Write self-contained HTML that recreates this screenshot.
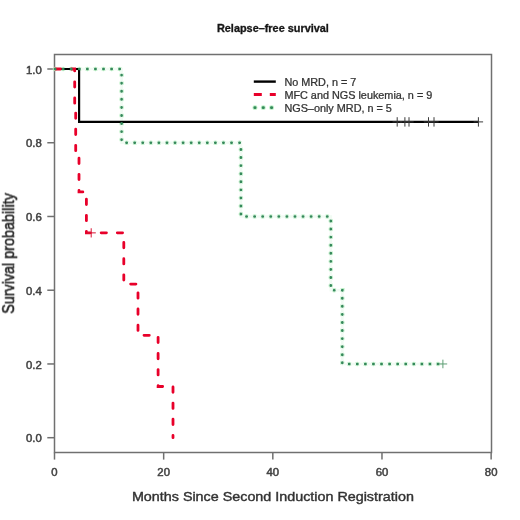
<!DOCTYPE html>
<html><head><meta charset="utf-8"><style>
html,body{margin:0;padding:0;background:#fff;}
svg{display:block;will-change:transform;}
text{font-family:"Liberation Sans",sans-serif;fill:#333;stroke:#333;stroke-width:0.2px;}
.tl{stroke-width:0.5px;fill:#444;stroke:#444;}
</style></head><body>
<svg width="520" height="520" viewBox="0 0 520 520">
<defs><filter id="bl" x="0" y="0" width="520" height="520" filterUnits="userSpaceOnUse"><feGaussianBlur stdDeviation="0.55"/></filter></defs>
<rect width="520" height="520" fill="#fff"/>
<g filter="url(#bl)">
<rect width="520" height="520" fill="#fff"/>
<rect x="54.5" y="54.5" width="437.0" height="398.0" fill="none" stroke="#707070" stroke-width="1.5"/>
<path d="M47.3,437.70H54.5" stroke="#707070" stroke-width="1.5"/>
<text class="tl" x="41.7" y="442.30" text-anchor="end" font-size="10.8" transform="translate(41.7 0) scale(1.05 1) translate(-41.7 0)">0.0</text>
<path d="M47.3,363.96H54.5" stroke="#707070" stroke-width="1.5"/>
<text class="tl" x="41.7" y="368.56" text-anchor="end" font-size="10.8" transform="translate(41.7 0) scale(1.05 1) translate(-41.7 0)">0.2</text>
<path d="M47.3,290.22H54.5" stroke="#707070" stroke-width="1.5"/>
<text class="tl" x="41.7" y="294.82" text-anchor="end" font-size="10.8" transform="translate(41.7 0) scale(1.05 1) translate(-41.7 0)">0.4</text>
<path d="M47.3,216.48H54.5" stroke="#707070" stroke-width="1.5"/>
<text class="tl" x="41.7" y="221.08" text-anchor="end" font-size="10.8" transform="translate(41.7 0) scale(1.05 1) translate(-41.7 0)">0.6</text>
<path d="M47.3,142.74H54.5" stroke="#707070" stroke-width="1.5"/>
<text class="tl" x="41.7" y="147.34" text-anchor="end" font-size="10.8" transform="translate(41.7 0) scale(1.05 1) translate(-41.7 0)">0.8</text>
<path d="M47.3,69.00H54.5" stroke="#707070" stroke-width="1.5"/>
<text class="tl" x="41.7" y="73.60" text-anchor="end" font-size="10.8" transform="translate(41.7 0) scale(1.05 1) translate(-41.7 0)">1.0</text>
<path d="M54.50,452.5V459.6" stroke="#707070" stroke-width="1.5"/>
<text class="tl" x="54.50" y="476.0" text-anchor="middle" font-size="10.3" transform="translate(54.50 0) scale(1.1 1) translate(-54.50 0)">0</text>
<path d="M163.66,452.5V459.6" stroke="#707070" stroke-width="1.5"/>
<text class="tl" x="163.66" y="476.0" text-anchor="middle" font-size="10.3" transform="translate(163.66 0) scale(1.1 1) translate(-163.66 0)">20</text>
<path d="M272.82,452.5V459.6" stroke="#707070" stroke-width="1.5"/>
<text class="tl" x="272.82" y="476.0" text-anchor="middle" font-size="10.3" transform="translate(272.82 0) scale(1.1 1) translate(-272.82 0)">40</text>
<path d="M381.98,452.5V459.6" stroke="#707070" stroke-width="1.5"/>
<text class="tl" x="381.98" y="476.0" text-anchor="middle" font-size="10.3" transform="translate(381.98 0) scale(1.1 1) translate(-381.98 0)">60</text>
<path d="M491.14,452.5V459.6" stroke="#707070" stroke-width="1.5"/>
<text class="tl" x="491.14" y="476.0" text-anchor="middle" font-size="10.3" transform="translate(491.14 0) scale(1.1 1) translate(-491.14 0)">80</text>
<text style="stroke-width:0.4px" x="272.9" y="501.3" text-anchor="middle" font-size="12.9" transform="translate(272.9 0) scale(1.112 1) translate(-272.9 0)">Months Since Second Induction Registration</text>
<text style="stroke-width:0.45px;fill:#1e1e1e;stroke:#1e1e1e" transform="translate(13.8 253.5) scale(1.12 1) rotate(-90)" x="0" y="0" text-anchor="middle" font-size="14.4">Survival probability</text>
<text style="fill:#151515;stroke:#151515;stroke-width:0.3px" x="272.9" y="31.7" text-anchor="middle" font-size="10" font-weight="bold" transform="translate(272.9 0) scale(1.09 1) translate(-272.9 0)">Relapse–free survival</text>
<polyline points="54.50,69.00 121.60,69.00 121.60,142.74 240.90,142.74 240.90,216.48 330.80,216.48 330.80,290.22 342.30,290.22 342.30,363.96 442.90,363.96" fill="none" stroke="#bff2c8" stroke-width="4.6" stroke-dasharray="0.35 7.72" stroke-dashoffset="-0.42" stroke-linecap="round"/>
<polyline points="54.50,69.00 121.60,69.00 121.60,142.74 240.90,142.74 240.90,216.48 330.80,216.48 330.80,290.22 342.30,290.22 342.30,363.96 442.90,363.96" fill="none" stroke="#f1fbf3" stroke-width="2.6"/>
<polyline points="54.50,69.00 79.10,69.00 79.10,121.90 478.40,121.90" fill="none" stroke="#000" stroke-width="2.2" stroke-linejoin="miter"/>
<path d="M392.50,121.90H401.90M397.20,117.20V126.60" stroke="#3a3a3a" stroke-width="1.0" fill="none"/>
<path d="M400.20,121.90H409.60M404.90,117.20V126.60" stroke="#3a3a3a" stroke-width="1.0" fill="none"/>
<path d="M404.30,121.90H413.70M409.00,117.20V126.60" stroke="#3a3a3a" stroke-width="1.0" fill="none"/>
<path d="M423.80,121.90H433.20M428.50,117.20V126.60" stroke="#3a3a3a" stroke-width="1.0" fill="none"/>
<path d="M429.30,121.90H438.70M434.00,117.20V126.60" stroke="#3a3a3a" stroke-width="1.0" fill="none"/>
<path d="M473.70,121.90H483.10M478.40,117.20V126.60" stroke="#3a3a3a" stroke-width="1.0" fill="none"/>
<polyline points="54.50,69.00 74.70,69.00 74.70,109.97 75.70,109.97 75.70,150.93 79.00,150.93 79.00,191.90 86.40,191.90 86.40,232.87 123.80,232.87 123.80,284.07 138.00,284.07 138.00,335.28 158.10,335.28 158.10,386.49 173.00,386.49 173.00,437.70" fill="none" stroke="#e8002a" stroke-width="2.8" stroke-dasharray="5.3 10.84" stroke-dashoffset="-0.7" stroke-linecap="round"/>
<path d="M86.60,232.87H95.80M91.20,228.27V237.47" stroke="#d81535" stroke-width="1.0" fill="none"/>
<polyline points="54.50,69.00 121.60,69.00 121.60,142.74 240.90,142.74 240.90,216.48 330.80,216.48 330.80,290.22 342.30,290.22 342.30,363.96 442.90,363.96" fill="none" stroke="#35895a" stroke-width="2.6" stroke-dasharray="0.35 7.72" stroke-dashoffset="-0.42" stroke-linecap="round"/>
<path d="M438.60,363.96H447.20M442.90,359.66V368.26" stroke="#5f9f75" stroke-width="1.0" fill="none"/>
<path d="M253.8,81.6H275.8" stroke="#000" stroke-width="2.4"/>
<path d="M253.8,94.4H275.8" stroke="#e8002a" stroke-width="3" stroke-dasharray="8 8"/>
<path d="M253.8,107.7H275.8" stroke="#bff2c8" stroke-width="4.8" stroke-dasharray="0.35 7.95" stroke-dashoffset="-1.0" stroke-linecap="round"/>
<path d="M253.8,107.7H275.8" stroke="#35895a" stroke-width="2.8" stroke-dasharray="0.35 7.95" stroke-dashoffset="-1.0" stroke-linecap="round"/>
<text style="stroke-width:0.25px" x="284.4" y="86.20" font-size="10" transform="translate(284.4 0) scale(1.085 1) translate(-284.4 0)">No MRD, n = 7</text>
<text style="stroke-width:0.25px" x="284.4" y="99.00" font-size="10" transform="translate(284.4 0) scale(1.085 1) translate(-284.4 0)">MFC and NGS leukemia, n = 9</text>
<text style="stroke-width:0.25px" x="284.4" y="112.30" font-size="10" transform="translate(284.4 0) scale(1.085 1) translate(-284.4 0)">NGS–only MRD, n = 5</text>
</g>
</svg>
</body></html>
